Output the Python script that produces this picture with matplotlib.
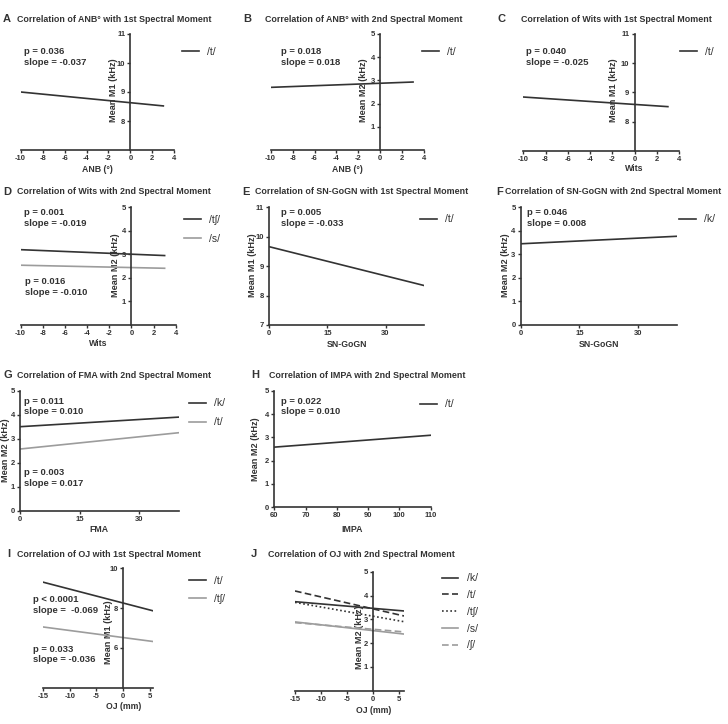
import matplotlib.pyplot as plt

W, H = 728, 724
plt.rcParams['font.family'] = ['Liberation Sans', 'DejaVu Sans']
plt.rcParams['axes.unicode_minus'] = False

DARK = '#333333'
GRAY = '#9c9c9c'

# regression line endpoints (x range, fitted y at both ends)
a_x, a_t = [-10, 3], [9.00, 8.52]
b_x, b_t = [-10, 3], [2.70, 2.93]
c_x, c_t = [-10, 3], [8.84, 8.51]
d_x, d_tsh, d_s = [-10, 3], [3.20, 2.95], [2.54, 2.41]
e_x, e_t = [0, 40], [9.66, 8.34]
f_x, f_k = [0, 40], [3.45, 3.77]
g_x, g_k, g_t = [0, 40], [3.50, 3.90], [2.57, 3.25]
h_x, h_t = [60, 110], [2.58, 3.09]
i_x, i_t, i_tsh = [-15, 5.7], [9.30, 7.86], [7.05, 6.32]
j_x = [-15, 5.9]
j_k, j_t, j_tsh = [3.74, 3.35], [4.19, 3.14], [3.71, 2.90]
j_s, j_sh = [2.89, 2.38], [2.86, 2.47]

fig = plt.figure(figsize=(W / 100, H / 100), dpi=100)
fig.patch.set_facecolor('white')


def make_panel(px, xlim, ylim, xticks, yticks, xlabel, ylabel, xl_px, yl_px, cross=False):
    x0, x1, y0, y1 = px
    ax = fig.add_axes([x0 / W, 1 - y1 / H, (x1 - x0) / W, (y1 - y0) / H])
    ax.set_facecolor('none')
    ax.set_xlim(xlim)
    ax.set_ylim(ylim)
    for s in ['top', 'right']:
        ax.spines[s].set_visible(False)
    for s in ['left', 'bottom']:
        ax.spines[s].set_linewidth(1.2)
        ax.spines[s].set_color(DARK)
    if cross:
        ax.spines['left'].set_position(('data', 0))
    ax.set_xticks(xticks)
    ax.set_yticks(yticks)
    ax.tick_params(direction='out', length=2.5, width=1, color=DARK, pad=1.2,
                   labelsize=5.5, labelcolor=DARK)
    for t in ax.get_xticklabels() + ax.get_yticklabels():
        t.set_fontweight('bold')
    ax.set_xlabel(xlabel, fontsize=6.3, fontweight='bold', color=DARK, va='center')
    ax.set_ylabel(ylabel, fontsize=6.6, fontweight='bold', color=DARK, va='center')
    ax.xaxis.set_label_coords((xl_px[0] - x0) / (x1 - x0), -(xl_px[1] - y1) / (y1 - y0))
    ax.yaxis.set_label_coords((yl_px[0] - x0) / (x1 - x0), (y1 - yl_px[1]) / (y1 - y0))
    return ax


def title(letter, lx, tx, y, text):
    fig.text(lx / W, 1 - y / H, letter, fontsize=8, fontweight='bold', color=DARK, va='center')
    fig.text(tx / W, 1 - y / H, text, fontsize=6.4, fontweight='bold', color=DARK, va='center')


def note(x, y, p, slope):
    fig.text(x / W, 1 - y / H, p, fontsize=6.8, fontweight='bold', color=DARK, va='center')
    fig.text(x / W, 1 - (y + 11) / H, slope, fontsize=6.8, fontweight='bold', color=DARK, va='center')


def legend(ax, lines, lx, ly, spacing=0.85):
    ax.legend(lines, [l.get_label() for l in lines], loc='center left',
              bbox_to_anchor=(lx / W, 1 - ly / H), bbox_transform=fig.transFigure,
              frameon=False, fontsize=7.5, handlelength=1.6, handletextpad=0.8,
              labelspacing=spacing, borderpad=0, borderaxespad=0, labelcolor=DARK)


lw = 1.2
x_even = [-10, -8, -6, -4, -2, 0, 2, 4]

# A
ax = make_panel((20.7, 174.3, 34, 150), (-10, 4), (7, 11), x_even, [8, 9, 10, 11],
                'ANB (°)', 'Mean M1 (kHz)', (97, 169), (113, 90), cross=True)
la, = ax.plot(a_x, a_t, color=DARK, lw=lw, label='/t/')
legend(ax, [la], 182, 52)
title('A', 3, 17, 19, 'Correlation of ANB° with 1st Spectral Moment')
note(24, 51.5, 'p = 0.036', 'slope = -0.037')

# B
ax = make_panel((270.7, 424, 34, 150), (-10, 4), (0, 5), x_even, [1, 2, 3, 4, 5],
                'ANB (°)', 'Mean M2 (kHz)', (347, 169), (363, 90), cross=True)
lb, = ax.plot(b_x, b_t, color=DARK, lw=lw, label='/t/')
legend(ax, [lb], 422, 52)
title('B', 243, 265, 19, 'Correlation of ANB° with 2nd Spectral Moment')
note(281, 51.5, 'p = 0.018', 'slope = 0.018')

# C
ax = make_panel((523.3, 679, 34, 150.7), (-10, 4), (7, 11), x_even, [8, 9, 10, 11],
                'Wits', 'Mean M1 (kHz)', (634, 169), (613, 90), cross=True)
lc, = ax.plot(c_x, c_t, color=DARK, lw=lw, label='/t/')
legend(ax, [lc], 680, 52)
title('C', 497, 521, 19, 'Correlation of Wits with 1st Spectral Moment')
note(526, 51.5, 'p = 0.040', 'slope = -0.025')

# D
ax = make_panel((20.7, 175.7, 207.3, 325), (-10, 4), (0, 5), x_even, [1, 2, 3, 4, 5],
                'Wits', 'Mean M2 (kHz)', (98, 344), (116, 265), cross=True)
ld1, = ax.plot(d_x, d_tsh, color=DARK, lw=lw, label='/tʃ/')
ld2, = ax.plot(d_x, d_s, color=GRAY, lw=lw, label='/s/')
legend(ax, [ld1, ld2], 184, 229.2)
title('D', 3, 17, 191.7, 'Correlation of Wits with 2nd Spectral Moment')
note(24, 212.7, 'p = 0.001', 'slope = -0.019')
note(25, 281.7, 'p = 0.016', 'slope = -0.010')

# E
ax = make_panel((269.3, 424.3, 207.3, 325), (0, 40), (7, 11), [0, 15, 30], [7, 8, 9, 10, 11],
                'SN-GoGN', 'Mean M1 (kHz)', (346.7, 345), (252.5, 265))
le, = ax.plot(e_x, e_t, color=DARK, lw=lw, label='/t/')
legend(ax, [le], 420, 219.3)
title('E', 242, 255, 191.7, 'Correlation of SN-GoGN with 1st Spectral Moment')
note(281, 212.7, 'p = 0.005', 'slope = -0.033')

# F
ax = make_panel((520.7, 677.3, 207.3, 325), (0, 40), (0, 5), [0, 15, 30], [0, 1, 2, 3, 4, 5],
                'SN-GoGN', 'Mean M2 (kHz)', (599, 345), (505, 265))
lf, = ax.plot(f_x, f_k, color=DARK, lw=lw, label='/k/')
legend(ax, [lf], 679, 219.3)
title('F', 496, 505, 191.7, 'Correlation of SN-GoGN with 2nd Spectral Moment')
note(526.7, 212.7, 'p = 0.046', 'slope = 0.008')

# G
ax = make_panel((20, 179, 390.7, 510.7), (0, 40), (0, 5), [0, 15, 30], [0, 1, 2, 3, 4, 5],
                'FMA', 'Mean M2 (kHz)', (99, 530), (6, 450))
lg1, = ax.plot(g_x, g_k, color=DARK, lw=lw, label='/k/')
lg2, = ax.plot(g_x, g_t, color=GRAY, lw=lw, label='/t/')
legend(ax, [lg1, lg2], 189, 412.8)
title('G', 3, 17, 375, 'Correlation of FMA with 2nd Spectral Moment')
note(24, 401, 'p = 0.011', 'slope = 0.010')
note(24, 472.3, 'p = 0.003', 'slope = 0.017')

# H
ax = make_panel((274.3, 430.7, 390.7, 507.3), (60, 110), (0, 5), [60, 70, 80, 90, 100, 110],
                [0, 1, 2, 3, 4, 5], 'IMPA', 'Mean M2 (kHz)', (352, 529), (255.3, 449))
lh, = ax.plot(h_x, h_t, color=DARK, lw=lw, label='/t/')
legend(ax, [lh], 420, 404.3)
title('H', 251.7, 269.3, 375, 'Correlation of IMPA with 2nd Spectral Moment')
note(281, 401, 'p = 0.022', 'slope = 0.010')

# I
ax = make_panel((43.3, 153.3, 568.3, 687.7), (-15, 5.7), (4, 10), [-15, -10, -5, 0, 5], [6, 8, 10],
                'OJ (mm)', 'Mean M1 (kHz)', (123.3, 706.7), (108.3, 631.7), cross=True)
li1, = ax.plot(i_x, i_t, color=DARK, lw=lw, label='/t/')
li2, = ax.plot(i_x, i_tsh, color=GRAY, lw=lw, label='/tʃ/')
legend(ax, [li1, li2], 189, 590, spacing=0.75)
title('I', 7, 17, 554.3, 'Correlation of OJ with 1st Spectral Moment')
note(32.7, 599.3, 'p < 0.0001', 'slope =  -0.069')
note(32.7, 649, 'p = 0.033', 'slope = -0.036')

# J
ax = make_panel((295, 404, 571.7, 690.7), (-15, 5.9), (0, 5), [-15, -10, -5, 0, 5], [1, 2, 3, 4, 5],
                'OJ (mm)', 'Mean M2 (kHz)', (373.3, 710.7), (360, 636.7), cross=True)
lj1, = ax.plot(j_x, j_k, color=DARK, lw=lw, label='/k/')
lj2, = ax.plot(j_x, j_t, color=DARK, lw=lw, ls=(0, (4, 2)), label='/t/')
lj3, = ax.plot(j_x, j_tsh, color=DARK, lw=lw, ls=(0, (1, 1.5)), label='/tʃ/')
lj4, = ax.plot(j_x, j_s, color=GRAY, lw=lw, label='/s/')
lj5, = ax.plot(j_x, j_sh, color=GRAY, lw=lw, ls=(0, (4, 2)), label='/ʃ/')
legend(ax, [lj1, lj2, lj3, lj4, lj5], 441.7, 611.8, spacing=0.65)
title('J', 251, 268.3, 554.3, 'Correlation of OJ with 2nd Spectral Moment')

fig.savefig('out.png', dpi=100, facecolor=fig.get_facecolor())
